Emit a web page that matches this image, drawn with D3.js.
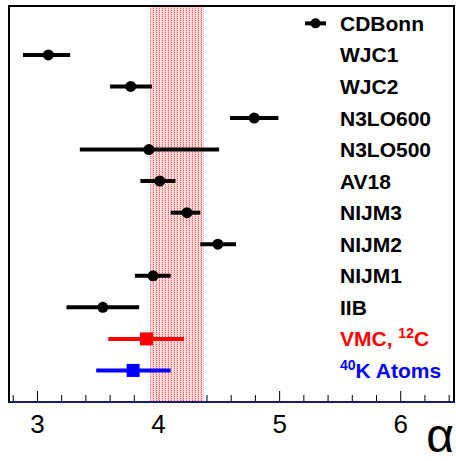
<!DOCTYPE html>
<html>
<head>
<meta charset="utf-8">
<script src="https://cdn.jsdelivr.net/npm/d3@7"></script>
<style>
  body { margin: 0; background: #fff; }
  text { font-family: "Liberation Sans", Arial, sans-serif; }
</style>
</head>
<body>
<script>
// rows, top to bottom (CDBonn is only a legend entry)
const labels = ["CDBonn", "WJC1", "WJC2", "N3LO600", "N3LO500", "AV18", "NIJM3", "NIJM2", "NIJM1", "IIB", "VMC", "40K"];
const values = [null, 3.09, 3.77, 4.79, 3.92, 4.01, 4.235, 4.49, 3.955, 3.54, 3.90, 3.79];
const lows   = [null, 2.88, 3.60, 4.59, 3.35, 3.85, 4.10, 4.345, 3.805, 3.24, 3.585, 3.485];
const highs  = [null, 3.27, 3.945, 4.99, 4.50, 4.14, 4.345, 4.64, 4.10, 3.84, 4.21, 4.10];
const band = [3.93, 4.375];
const xTicks = [3, 4, 5, 6];

const [w, h] = [456, 461];
const [padL, padR, padT, padB] = [9, 454, 6, 402];

const svg = d3.select('body').append('svg')
    .attr('width', w)
    .attr('height', h);

const x = d3.scaleLinear().domain([2.765, 6.44]).range([padL, padR]);
const y = d3.scaleLinear().domain([-0.55, 12]).range([padT, padB]);

// hatch pattern for the band (dotted vertical lines)
const defs = svg.append('defs');
const pat = defs.append('pattern')
    .attr('id', 'hatch')
    .attr('patternUnits', 'userSpaceOnUse')
    .attr('width', 3).attr('height', 2);
pat.append('rect').attr('width', 3).attr('height', 2).attr('fill', '#ffe2e2');
pat.append('rect').attr('x', 0).attr('y', 0).attr('width', 1).attr('height', 1).attr('fill', '#ff4040');
pat.append('rect').attr('x', 0).attr('y', 1).attr('width', 1).attr('height', 1).attr('fill', '#ffc0c0');
pat.append('rect').attr('x', 2).attr('y', 1).attr('width', 1).attr('height', 1).attr('fill', '#ffb8b8');

// x axis ticks (major + minor)
const minor = d3.range(2.8, 6.45, 0.2).map(d => +d.toFixed(1));
svg.append('g').selectAll('line')
    .data(minor)
    .join('line')
    .attr('x1', d => x(d)).attr('x2', d => x(d))
    .attr('y1', padB)
    .attr('y2', d => xTicks.includes(d) ? padB - 11 : padB - 7)
    .attr('stroke', '#000')
    .attr('stroke-width', 1);

svg.append('g').selectAll('text')
    .data(xTicks)
    .join('text')
    .attr('x', d => x(d))
    .attr('y', 433)
    .attr('text-anchor', 'middle')
    .attr('font-size', '26px')
    .text(d => d);

// band
svg.append('rect')
    .attr('x', x(band[0]))
    .attr('y', padT)
    .attr('width', x(band[1]) - x(band[0]))
    .attr('height', padB - padT)
    .attr('fill', 'url(#hatch)')
    .attr('opacity', 0.9);

// frame
svg.append('rect')
    .attr('x', padL).attr('y', padT)
    .attr('width', padR - padL).attr('height', padB - padT)
    .attr('fill', 'none')
    .attr('stroke', '#000')
    .attr('stroke-width', 2);
svg.append('line')
    .attr('x1', padL).attr('x2', padR)
    .attr('y1', padB).attr('y2', padB)
    .attr('stroke', '#1a1a6e')
    .attr('stroke-width', 2);

const colorOf = i => labels[i] === 'VMC' ? '#ff0000' : labels[i] === '40K' ? '#0000ff' : '#000';

// error bars
const rows = d3.range(labels.length).filter(i => values[i] != null);
svg.append('g').selectAll('line')
    .data(rows)
    .join('line')
    .attr('x1', i => x(lows[i]))
    .attr('x2', i => x(highs[i]))
    .attr('y1', i => y(i)).attr('y2', i => y(i))
    .attr('stroke', colorOf)
    .attr('stroke-width', 4);

// markers
svg.append('g').selectAll('circle')
    .data(rows.filter(i => colorOf(i) === '#000'))
    .join('circle')
    .attr('cx', i => x(values[i]))
    .attr('cy', i => y(i))
    .attr('r', 5.5)
    .attr('fill', '#000');

svg.append('g').selectAll('rect')
    .data(rows.filter(i => colorOf(i) !== '#000'))
    .join('rect')
    .attr('x', i => x(values[i]) - 6.5)
    .attr('y', i => y(i) - 6.5)
    .attr('width', 13).attr('height', 13)
    .attr('fill', colorOf);

// legend labels
const lab = svg.append('g').selectAll('text')
    .data(d3.range(labels.length))
    .join('text')
    .attr('x', 340)
    .attr('y', i => y(i) + 7.5)
    .attr('font-size', '21px')
    .attr('font-weight', 'bold')
    .attr('fill', colorOf);

lab.each(function (i) {
    const t = d3.select(this);
    if (labels[i] === 'VMC') {
        t.append('tspan').text('VMC, ');
        t.append('tspan').attr('font-size', '14px').attr('dy', -8).text('12');
        t.append('tspan').attr('dy', 8).text('C');
    } else if (labels[i] === '40K') {
        t.append('tspan').attr('font-size', '14px').attr('dy', -8).text('40');
        t.append('tspan').attr('dy', 8).text('K Atoms');
    } else {
        t.text(labels[i]);
    }
});

// CDBonn legend symbol
svg.append('line')
    .attr('x1', 305).attr('x2', 326)
    .attr('y1', y(0)).attr('y2', y(0))
    .attr('stroke', '#000').attr('stroke-width', 4);
svg.append('circle')
    .attr('cx', 315.5).attr('cy', y(0))
    .attr('r', 5).attr('fill', '#000');

// axis title
svg.append('text')
    .attr('x', 454)
    .attr('y', 452)
    .attr('text-anchor', 'end')
    .attr('font-family', '"Liberation Serif", serif')
    .attr('font-size', '48px')
    .text('α');
</script>
</body>
</html>
